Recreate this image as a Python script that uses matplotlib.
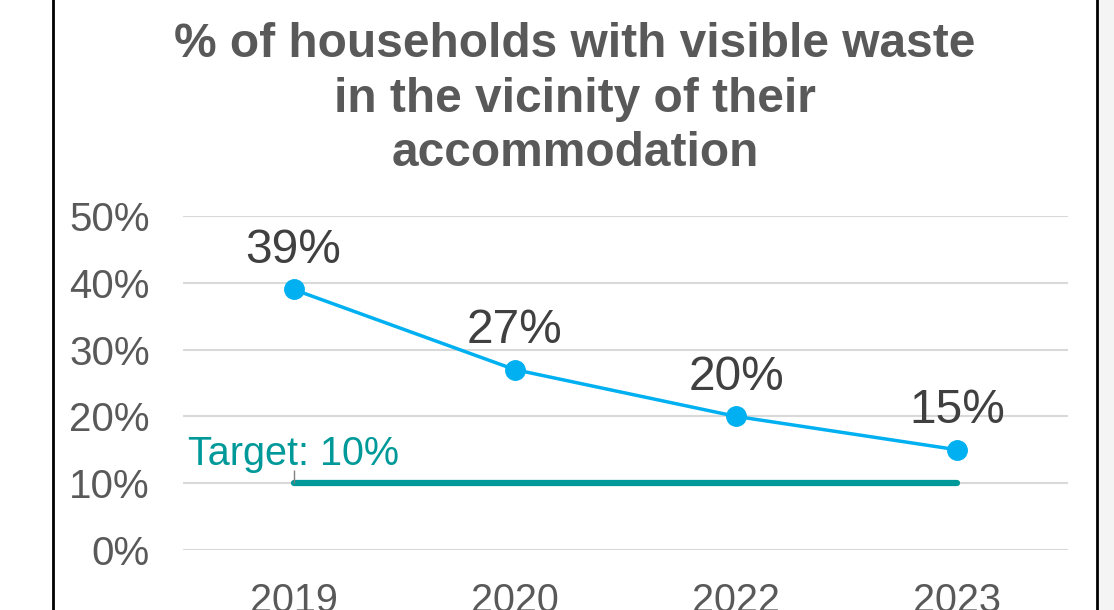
import matplotlib
matplotlib.use("Agg")
import matplotlib.pyplot as plt
from matplotlib.lines import Line2D
from matplotlib.patches import Rectangle

plt.rcParams['font.family'] = ['Liberation Sans', 'DejaVu Sans']

title = "% of households with visible waste\nin the vicinity of their\naccommodation"
years = ["2019", "2020", "2022", "2023"]
values = [39, 27, 20, 15]
target = 10
target_label = "Target: 10%"
yticks = [0, 10, 20, 30, 40, 50]

W, H = 1114, 610
fig = plt.figure(figsize=(W / 100, H / 100), dpi=100)
fig.patch.set_facecolor('white')

# page decoration: frame lines
fig.add_artist(Rectangle((1098 / W, 0), 1 - 1098 / W, 1, transform=fig.transFigure,
                         facecolor='#f4f4f4', edgecolor='none', zorder=0))
for xp in (53, 1097):
    fig.add_artist(Line2D([xp / W, xp / W], [0, 1], transform=fig.transFigure,
                          color='black', lw=2))

ax = fig.add_axes([183 / W, (H - 550) / H, (1068 - 183) / W, (550 - 216) / H])
ax.set_facecolor('none')
x = list(range(len(years)))
ax.set_xlim(-0.5, len(years) - 0.5)
ax.set_ylim(0, 50)

ax.set_yticks(yticks)
ax.set_yticklabels([f"{v}%" for v in yticks])
ax.set_xticks(x)
ax.set_xticklabels(years)
ax.tick_params(axis='y', length=0, pad=24, labelsize=29, labelcolor='#595959')
ax.tick_params(axis='x', length=0, pad=23, labelsize=28.5, labelcolor='#595959')
for s in ax.spines.values():
    s.set_visible(False)
ax.grid(axis='y', color='#d9d9d9', lw=1.5)
ax.set_axisbelow(True)

# target line
ax.plot([x[0], x[-1]], [target, target], color='#009999', lw=4.5,
        solid_capstyle='round', zorder=3, clip_on=False)
ax.vlines(x[0], target, target + 2, color='#808080', lw=1, zorder=3)
ax.annotate(target_label, (x[0], target), xytext=(-76, 21), textcoords='offset points',
            ha='left', va='center', fontsize=28.5, color='#009999')

# main series
ax.plot(x, values, color='#00b0f0', lw=2.5, marker='o', markersize=14,
        zorder=4, clip_on=False)
for xi, v in zip(x, values):
    ax.annotate(f"{v}%", (xi, v), xytext=(0, 28), textcoords='offset points',
                ha='center', va='center', fontsize=34.5, color='#404040')

fig.text(575 / W, 1 - 99 / H, title, ha='center', va='center', fontsize=34.5,
         fontweight='bold', color='#595959', linespacing=1.26)

fig.savefig("out.png", dpi=100)
